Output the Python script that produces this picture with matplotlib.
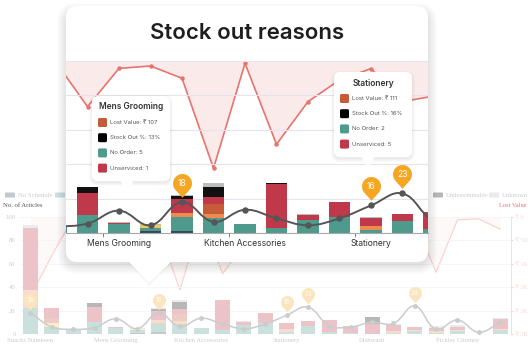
import numpy as np
import matplotlib.pyplot as plt
from matplotlib.patches import FancyBboxPatch, Polygon, Rectangle, PathPatch
from matplotlib.path import Path
from matplotlib.transforms import Affine2D

plt.rcParams['font.family'] = ['Inter', 'DejaVu Sans']

W, H = 528, 351

# ---- data ----
label_idx = [0, 4, 8, 12, 16, 20]
label_names = ['Snacks Namkeen', 'Mens Grooming', 'Kitchen Accessories',
               'Stationery', 'Dishwash', 'Pickles Chutney']

stock_pct = [18, 6, 4, 5.5, 13, 4.5, 18, 6.5, 13.5, 8.5, 4.5, 8.5,
             16, 23, 7, 6, 10, 9, 24, 4, 12, 1.5, 10]
lost_value = [1700, 820, 20, 664, 107, 73, 251, 1560, 34, 1211, 591, 276,
              111, 590, 509, 350, 200, 450, 90, 1180, 60, 40, 260]

no_schedule = [0, 0, 0, 0, 0, 1, 1.3, 0, 0, 0, 0, 0, 0, 0, 0, 0, 0, 0, 0, 0, 0, 0, 0]
no_order = [22, 6, 3.5, 10.5, 5, 2, 8, 8.7, 5.2, 3.1, 7.8, 9.3, 2, 6.8, 2.1,
            0.8, 0, 1, 2.3, 1.2, 2.3, 0, 3.7]
short_expiry = [0, 3, 0, 0, 0, 1.5, 0, 0, 0, 0, 0, 0, 0, 0, 0, 0, 0, 0, 0, 0, 0, 0, 0]
low_stock = [16, 0, 0, 0, 0, 0, 2.3, 2.1, 0, 0, 0, 0, 2, 0, 0, 0, 0, 1.5, 1,
             1.2, 1, 0, 0.6]
lost_sale = [0, 4.3, 0, 0, 0, 0, 0, 6, 0, 0, 0, 0, 0, 0, 0, 0, 0, 0, 0, 0, 0, 0, 0]
unserviced = [53, 8.5, 0, 12.5, 1, 0, 8.1, 4.2, 0, 25.6, 2.5, 8.7, 5, 4.1, 10,
              6, 8.5, 5.5, 3, 2.5, 2.6, 0, 8.6]
undeterminable = [0, 0, 0, 3.5, 0, 0, 2, 6, 0, 0.6, 0, 0, 0, 0, 0, 0, 5.7, 0,
                  0, 0, 0, 0, 0]
unknown = [2, 0, 0, 0, 0.3, 1, 0.5, 1.9, 0, 0, 1, 0, 0.4, 0, 0, 0, 0, 0.5, 0,
           2, 1.7, 0, 1]

stacks = [no_schedule, no_order, short_expiry, low_stock, lost_sale,
          unserviced, undeterminable, unknown]
stack_colors = ['#34495E', '#4E9A8C', '#F0C75E', '#EE8C4F', '#C65B3A',
                '#C0394B', '#111111', '#BDBDBD']

lost_ticks = [0, 500, 1000, 1500, 2000, 2500]
lost_tick_labels = ['₹ 0', '₹ 500', '₹ 1K', '₹ 2K', '₹ 2K', '₹ 3K']

tooltip_idx = [4, 12]

n = len(stock_pct)
x = np.arange(n)

PINK_LINE = '#E8736E'
PINK_FILL = '#FAEBEA'
PIN = '#F5A623'

fig = plt.figure(figsize=(W / 100, H / 100), dpi=100)
PX = Affine2D().scale(1 / W, -1 / H).translate(0, 1) + fig.transFigure


def rect(x0, y0, x1, y1):
    return [x0 / W, 1 - y1 / H, (x1 - x0) / W, (y1 - y0) / H]


def spline(xs, ys, ratio, t=0.4):
    # bezier through the points, like chart.js line tension
    p = np.column_stack([xs, ys]).astype(float)
    m = len(p)
    cin, cout = np.zeros_like(p), np.zeros_like(p)
    for i in range(m):
        p0, p1, p2 = p[max(i - 1, 0)], p[i], p[min(i + 1, m - 1)]
        d01 = np.hypot((p1[0] - p0[0]) * ratio, p1[1] - p0[1])
        d12 = np.hypot((p2[0] - p1[0]) * ratio, p2[1] - p1[1])
        s = d01 + d12 if d01 + d12 else 1
        cin[i] = p1 - t * d01 / s * (p2 - p0)
        cout[i] = p1 + t * d12 / s * (p2 - p0)
    verts, codes = [p[0]], [Path.MOVETO]
    for i in range(1, m):
        verts += [cout[i - 1], cin[i], p[i]]
        codes += [Path.CURVE4] * 3
    return Path(verts, codes)


# teardrop marker: tip at 0.5 r above the point, circle centred 2 r above
ang = np.radians(np.linspace(-41.8, 221.8, 60))
pin_verts = np.vstack([[0, 0.5], np.column_stack([np.cos(ang), 2 + np.sin(ang)]), [0, 0.5]])
pin_marker = Path(pin_verts, closed=True)


def draw_chart(axl, axb, ratio, lw, slw, bar_w, pin_ms, pin_off, pin_fs, dot_ms, pins):
    axl.fill_between(x, 0, lost_value, color=PINK_FILL, lw=0)
    axl.plot(x, lost_value, color=PINK_LINE, lw=lw)
    axl.set_ylim(2500, 0)
    bottom = np.zeros(n)
    for vals, c in zip(stacks, stack_colors):
        axb.bar(x, vals, bar_w, bottom=bottom, color=c, lw=0, zorder=2)
        bottom += np.array(vals)
    axb.add_patch(PathPatch(spline(x, stock_pct, ratio), fill=False,
                            ec='#555555', lw=slw, zorder=3))
    axb.plot(x, stock_pct, 'o', color='#555555', ms=dot_ms, zorder=4)
    for i in pins:
        axb.plot(x[i], stock_pct[i], marker=pin_marker, ms=pin_ms, color=PIN,
                 mec='none', zorder=5)
        axb.annotate(f'{stock_pct[i]:g}', (x[i], stock_pct[i]), xytext=(0, pin_off),
                     textcoords='offset points', ha='center', va='center',
                     color='white', fontsize=pin_fs, zorder=6)
    axb.set_ylim(0, 100)
    for a in (axl, axb):
        for s in a.spines.values():
            s.set_visible(False)
    axb.patch.set_visible(False)


big_pins = [i for i in range(n) if stock_pct[i] >= 15]

# ---------------- background chart (faded) ----------------
bg_font = ['Liberation Serif', 'DejaVu Serif']
axl_bg = fig.add_axes(rect(19.8, 217, 510.8, 334), zorder=0)
axb_bg = fig.add_axes(rect(19.8, 217, 510.8, 334), sharex=axl_bg, zorder=0.5)
draw_chart(axl_bg, axb_bg, 18.2, 0.9, 1.1, 0.7, 28, 9.4, 4.5, 2.5, big_pins)
axb_bg.set_yticks(range(0, 101, 20))
axb_bg.grid(axis='y', color='#DDDDDD', lw=0.6)
axb_bg.set_axisbelow(True)
axb_bg.tick_params(axis='y', length=0, labelsize=4.8, labelcolor='#555555', pad=3)
axb_bg.set_xticks(label_idx, label_names)
axb_bg.tick_params(axis='x', length=0, labelsize=4.8, labelcolor='#555555', pad=3)
axb_bg.set_xlim(-0.5, n - 0.5)
for t in axb_bg.get_xticklabels() + axb_bg.get_yticklabels():
    t.set_family(bg_font)
axl_bg.yaxis.tick_right()
axl_bg.set_yticks(lost_ticks, lost_tick_labels)
axl_bg.tick_params(axis='y', length=1.5, color=PINK_LINE, labelsize=4.3,
                   labelcolor=PINK_LINE, pad=1.5)
axl_bg.tick_params(axis='x', bottom=False, labelbottom=False)
for t in axl_bg.get_yticklabels():
    t.set_family(bg_font)
axl_bg.spines['right'].set_visible(True)
axl_bg.spines['right'].set_color(PINK_LINE)
axl_bg.spines['right'].set_linewidth(0.6)

fig.text(3 / W, 1 - 206 / H, 'No. of Articles', fontsize=4.8, color='#555555',
         family=bg_font, va='center')
fig.text(499 / W, 1 - 206 / H, 'Lost Value', fontsize=4.6, color=PINK_LINE,
         family=bg_font, va='center')
for sx, col, txt in [(5, stack_colors[0], 'No Schedule'), (55, stack_colors[1], ''),
                     (433, stack_colors[6], 'Undeterminable'),
                     (489, stack_colors[7], 'Unknown')]:
    fig.add_artist(FancyBboxPatch((sx, 192.5), 10, 5, boxstyle='round,pad=0,rounding_size=1',
                                  transform=PX, fc=col, ec='none', zorder=0.6))
    fig.text((sx + 13) / W, 1 - 195.5 / H, txt, fontsize=4.8, color='#555555',
             family=bg_font, va='center', zorder=0.6)

# fade everything behind the card
fig.add_artist(Rectangle((0, 0), 1, 1, transform=fig.transFigure, fc='white',
                         alpha=0.7, ec='none', zorder=1))

# ---------------- card ----------------
for k in range(10):
    fig.add_artist(FancyBboxPatch((66 - k, 9 - k + 3), 362 + 2 * k, 253 + 2 * k,
                                  boxstyle='round,pad=0,rounding_size=%d' % (11 + k),
                                  transform=PX, fc='black', ec='none',
                                  alpha=0.012, zorder=1.5))
fig.add_artist(Polygon([(124, 258), (176, 258), (149, 286)], closed=True, transform=PX,
                       fc='black', ec='none', alpha=0.04, zorder=1.5))
fig.add_artist(FancyBboxPatch((66, 6), 362, 256, boxstyle='round,pad=0,rounding_size=11',
                              transform=PX, fc='white', ec='none', zorder=2))
fig.add_artist(Polygon([(127, 260), (173, 260), (149, 283)], closed=True, transform=PX,
                       fc='white', ec='none', zorder=2))
fig.text(247 / W, 1 - 33 / H, 'Stock out reasons', fontsize=16, fontweight='semibold',
         color='#1E1E1E', ha='center', va='center', zorder=3)

axl_fg = fig.add_axes(rect(66, 61, 428, 233), zorder=3)
axb_fg = fig.add_axes(rect(66, 61, 428, 233), sharex=axl_fg, zorder=4)
axl_fg.patch.set_visible(False)
draw_chart(axl_fg, axb_fg, 18.3, 1.2, 1.4, 0.69, 41, 13.7, 6.2, 3.6,
           [i for i in big_pins if 2 < i < 14])
axl_fg.plot(x, lost_value, 'o', color=PINK_LINE, ms=2.2)
axb_fg.set_yticks(range(0, 101, 20))
axb_fg.grid(axis='y', color='#E6E3EE', lw=0.8)
axb_fg.set_axisbelow(True)
axb_fg.tick_params(axis='y', left=False, labelleft=False)
axb_fg.set_xticks(label_idx, label_names)
axb_fg.set_xticks([i - 0.5 for i in label_idx], minor=True)
axb_fg.tick_params(axis='x', which='major', length=0, labelsize=6.2,
                   labelcolor='#333333', pad=4)
axb_fg.tick_params(axis='x', which='minor', length=3, color='#888888', width=0.6)
axb_fg.set_xlim(2.317, 13.81)
axb_fg.spines['bottom'].set_visible(True)
axb_fg.spines['bottom'].set_color('#A8A8A8')
axb_fg.spines['bottom'].set_linewidth(0.8)
axl_fg.tick_params(left=False, labelleft=False, bottom=False, labelbottom=False)


# ---------------- tooltips ----------------
def tooltip(i, x0, y0, x1, y1, tip):
    for k in range(4):
        fig.add_artist(FancyBboxPatch((x0 - k, y0 - k + 2), x1 - x0 + 2 * k, y1 - y0 + 2 * k,
                                      boxstyle='round,pad=0,rounding_size=%d' % (6 + k),
                                      transform=PX, fc='black', ec='none',
                                      alpha=0.02, zorder=5))
    fig.add_artist(FancyBboxPatch((x0, y0), x1 - x0, y1 - y0,
                                  boxstyle='round,pad=0,rounding_size=6',
                                  transform=PX, fc='white', ec='none', zorder=5))
    fig.add_artist(Polygon([(tip - 7, y1 - 1), (tip + 7, y1 - 1), (tip, y1 + 12)], closed=True,
                           transform=PX, fc='white', ec='none', zorder=5))
    cx = (x0 + x1) / 2
    fig.text(cx / W, 1 - (y0 + 11) / H, label_names[label_idx.index(i)], fontsize=6,
             fontweight='semibold', color='#333333', ha='center', va='center', zorder=6)
    rows = [('#C65B3A', f'Lost Value: ₹ {lost_value[i]:g}'),
            ('#000000', f'Stock Out %: {stock_pct[i]:g}%'),
            (stack_colors[1], f'No Order: {no_order[i]:g}'),
            (stack_colors[5], f'Unserviced: {unserviced[i]:g}')]
    for r, (c, txt) in enumerate(rows):
        yy = y0 + 26.5 + r * 15.2
        fig.add_artist(FancyBboxPatch((x0 + 6, yy - 4.5), 9, 9,
                                      boxstyle='round,pad=0,rounding_size=1.5',
                                      transform=PX, fc=c, ec='none', zorder=6))
        fig.text((x0 + 18) / W, 1 - yy / H, txt, fontsize=4.3, color='#555555',
                 va='center', zorder=6)


tooltip(tooltip_idx[0], 92, 96, 170, 181, 127)
tooltip(tooltip_idx[1], 334, 72, 412, 157, 368)

fig.savefig('out.png', dpi=100)
